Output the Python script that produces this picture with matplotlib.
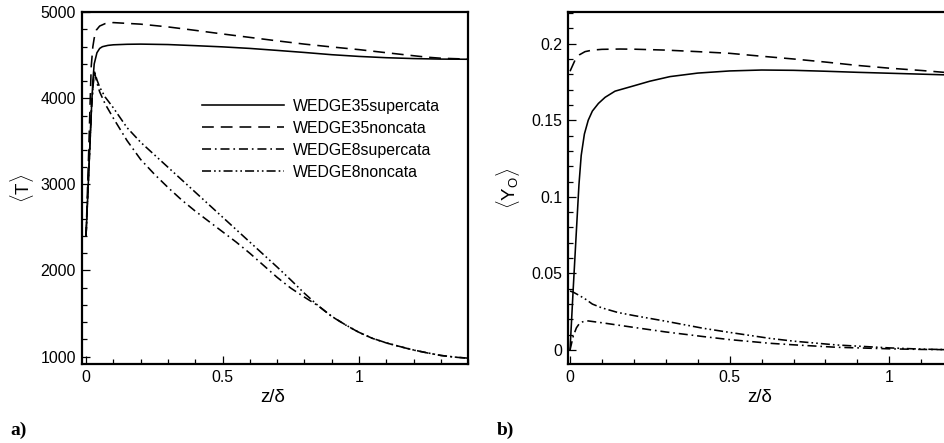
import matplotlib
matplotlib.use("Agg")
import matplotlib.pyplot as plt
from matplotlib.ticker import MultipleLocator, FuncFormatter

plt.rcParams.update({
    "font.family": ["Liberation Sans", "DejaVu Sans"],
    "font.size": 11.4,
    "mathtext.fontset": "custom",
    "mathtext.rm": "Liberation Sans",
    "mathtext.it": "Liberation Sans",
    "lines.scale_dashes": False,
})

# ---- panel a) mean temperature ----
x35s_T = [0, 0.005, 0.01, 0.015, 0.02, 0.025, 0.03, 0.04, 0.05, 0.06, 0.08, 0.1, 0.15, 0.2,
          0.3, 0.4, 0.5, 0.6, 0.7, 0.8, 0.9, 1.0, 1.1, 1.2, 1.3, 1.4]
T35s = [2400, 2770, 3140, 3510, 3880, 4200, 4400, 4530, 4580, 4600, 4615, 4622, 4628, 4630,
        4625, 4612, 4598, 4580, 4557, 4533, 4507, 4487, 4472, 4462, 4456, 4454]

x35n_T = [0, 0.005, 0.01, 0.015, 0.019, 0.025, 0.03, 0.038, 0.05, 0.07, 0.1, 0.2, 0.3, 0.4,
          0.5, 0.6, 0.7, 0.8, 0.9, 1.0, 1.1, 1.2, 1.25, 1.3, 1.4]
T35n = [2400, 2900, 3400, 3950, 4368, 4600, 4700, 4794, 4840, 4868, 4880, 4862, 4830, 4790,
        4748, 4708, 4668, 4630, 4597, 4566, 4530, 4495, 4478, 4466, 4456]

x8_T = [0, 0.01, 0.02, 0.03, 0.04, 0.05, 0.07, 0.1, 0.15, 0.2, 0.25, 0.3, 0.35, 0.4, 0.45,
        0.5, 0.55, 0.6, 0.65, 0.7, 0.75, 0.8, 0.85, 0.9, 0.95, 1.0, 1.05, 1.1, 1.15, 1.2,
        1.25, 1.3, 1.35, 1.4]
T8s = [2400, 3150, 3900, 4320, 4180, 4075, 3935, 3770, 3510, 3290, 3120, 2965, 2820, 2690, 2570,
       2450, 2330, 2200, 2060, 1920, 1795, 1690, 1590, 1466, 1368, 1280, 1210, 1158, 1115, 1075,
       1042, 1012, 993, 980]
T8n = [2400, 3150, 3900, 4320, 4215, 4130, 4015, 3890, 3660, 3490, 3345, 3200, 3055, 2910, 2765,
       2620, 2475, 2330, 2185, 2040, 1890, 1735, 1592, 1467, 1369, 1281, 1211, 1159, 1116, 1076,
       1043, 1013, 994, 981]

# ---- panel b) mean oxygen mass fraction ----
x35s_Y = [0, 0.01, 0.02, 0.028, 0.035, 0.045, 0.057, 0.07, 0.089, 0.11, 0.141, 0.2, 0.25, 0.313,
          0.4, 0.5, 0.6, 0.7, 0.8, 0.9, 1.0, 1.1, 1.2, 1.3, 1.4]
Y35s = [0.0, 0.04, 0.078, 0.108, 0.127, 0.141, 0.150, 0.156, 0.161, 0.165, 0.169, 0.1725, 0.1755,
        0.1785, 0.1808, 0.1822, 0.1828, 0.1826, 0.1820, 0.1813, 0.1807, 0.1801, 0.1795, 0.1790, 0.1786]

x35n_Y = [0, 0.016, 0.03, 0.047, 0.07, 0.1, 0.157, 0.2, 0.3, 0.4, 0.5, 0.6, 0.7, 0.8, 0.9, 1.0,
          1.1, 1.2, 1.3, 1.4]
Y35n = [0.182, 0.1894, 0.1928, 0.1948, 0.1958, 0.1963, 0.1965, 0.1964, 0.1958, 0.1948, 0.1937,
        0.1918, 0.1900, 0.1880, 0.1858, 0.1840, 0.1825, 0.1808, 0.1798, 0.1790]

x8n_Y = [0, 0.01, 0.03, 0.05, 0.07, 0.1, 0.15, 0.2, 0.3, 0.417, 0.5, 0.626, 0.7, 0.835, 1.0,
         1.1, 1.2, 1.4]
Y8n = [0.0385, 0.0378, 0.0355, 0.033, 0.030, 0.0275, 0.0245, 0.0225, 0.0188, 0.0142, 0.0115,
       0.0076, 0.0058, 0.0033, 0.0014, 0.0006, 0.0002, 0.0]

x8s_Y = [0, 0.01, 0.02, 0.031, 0.045, 0.057, 0.1, 0.209, 0.3, 0.417, 0.5, 0.626, 0.7, 0.835,
         1.0, 1.1, 1.2, 1.4]
Y8s = [0.0, 0.009, 0.0145, 0.0178, 0.0188, 0.019, 0.0178, 0.0145, 0.0118, 0.0088, 0.0068,
       0.0044, 0.0034, 0.0018, 0.0008, 0.0004, 0.0002, 0.0]

labels = ["WEDGE35supercata", "WEDGE35noncata", "WEDGE8supercata", "WEDGE8noncata"]

LW = 1.15
STYLES = [
    "-",
    (0, (8.5, 5.0)),
    (0, (6.5, 2.8, 1.2, 2.8)),
    (0, (6.5, 2.2, 1.2, 2.2, 1.2, 2.2)),
]


def num_fmt(v, pos):
    return f"{v:g}"


def style_axes(ax):
    for sp in ax.spines.values():
        sp.set_linewidth(1.6)
    ax.tick_params(which="both", direction="in", top=False, right=False, width=0.9,
                   labelsize=11.4)
    ax.tick_params(which="major", length=6, pad=4)
    ax.tick_params(which="minor", length=3.5)
    ax.xaxis.set_major_formatter(FuncFormatter(num_fmt))
    ax.yaxis.set_major_formatter(FuncFormatter(num_fmt))


fig = plt.figure(figsize=(9.44, 4.43), dpi=100)

# left panel
ax1 = fig.add_axes([0.0865, 0.1777, 0.4095, 0.7946])
ax1.plot(x35s_T, T35s, color="black", lw=LW, ls=STYLES[0], label=labels[0])
ax1.plot(x35n_T, T35n, color="black", lw=LW, ls=STYLES[1], label=labels[1])
ax1.plot(x8_T, T8s, color="black", lw=LW, ls=STYLES[2], label=labels[2])
ax1.plot(x8_T, T8n, color="black", lw=LW, ls=STYLES[3], label=labels[3])
ax1.set_xlim(-0.016, 1.4)
ax1.set_ylim(910, 5000)
ax1.xaxis.set_major_locator(MultipleLocator(0.5))
ax1.xaxis.set_minor_locator(MultipleLocator(0.1))
ax1.yaxis.set_major_locator(MultipleLocator(1000))
ax1.yaxis.set_minor_locator(MultipleLocator(200))
style_axes(ax1)
ax1.set_xlabel("z/δ", fontsize=13.5)
ax1.set_ylabel(r"$\langle\mathrm{T}\rangle$", fontsize=13.5)
ax1.xaxis.set_label_coords(0.495, -0.095)
ax1.xaxis.label.set_va("center")
ax1.yaxis.set_label_coords(-0.155, 0.5)
ax1.yaxis.label.set_va("center")
ax1.legend(loc="upper left", bbox_to_anchor=(0.311, 0.754), frameon=False,
           borderpad=0, borderaxespad=0, handlelength=5.2, handletextpad=0.57,
           labelspacing=0.44, fontsize=11.4)

# right panel (cut by figure edge like the reference)
ax2 = fig.add_axes([0.6014, 0.1777, 0.476, 0.7946])
ax2.plot(x35s_Y, Y35s, color="black", lw=LW, ls=STYLES[0])
ax2.plot(x35n_Y, Y35n, color="black", lw=LW, ls=STYLES[1])
ax2.plot(x8s_Y, Y8s, color="black", lw=LW, ls=STYLES[2])
ax2.plot(x8n_Y, Y8n, color="black", lw=LW, ls=STYLES[3])
ax2.set_xlim(-0.0072, 1.4)
ax2.set_ylim(-0.0093, 0.2205)
ax2.xaxis.set_major_locator(MultipleLocator(0.5))
ax2.xaxis.set_minor_locator(MultipleLocator(0.1))
ax2.yaxis.set_major_locator(MultipleLocator(0.05))
ax2.yaxis.set_minor_locator(MultipleLocator(0.01))
style_axes(ax2)
ax2.set_xlabel("z/δ", fontsize=13.5)
ax2.set_ylabel(r"$\langle\mathrm{Y_O}\rangle$", fontsize=13.5)
ax2.xaxis.set_label_coords(0.428, -0.095)
ax2.xaxis.label.set_va("center")
ax2.yaxis.set_label_coords(-0.133, 0.5)
ax2.yaxis.label.set_va("center")

fig.text(10 / 944, 1 - 430 / 443, "a)", fontsize=14, fontweight="bold",
         family="Liberation Serif", va="center", ha="left")
fig.text(497 / 944, 1 - 430 / 443, "b)", fontsize=14, fontweight="bold",
         family="Liberation Serif", va="center", ha="left")

fig.savefig("out.png", dpi=100)
